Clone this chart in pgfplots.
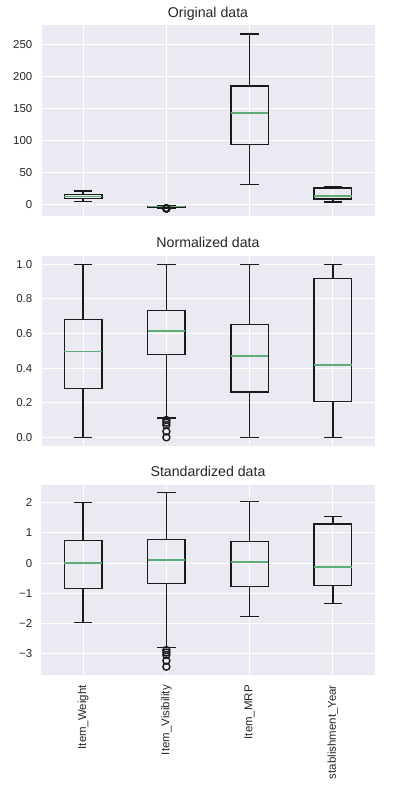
\documentclass[border=0pt]{standalone}
\usepackage{fontspec}
\setmainfont{Liberation Sans}
\usepackage{pgfplots}
\pgfplotsset{compat=1.18}
\usepgfplotslibrary{statistics}
\definecolor{bgc}{HTML}{EAEAF2}
\definecolor{medc}{HTML}{5DAE74}
\definecolor{txt}{HTML}{262626}
\definecolor{boxc}{HTML}{1A1A1A}
\pgfplotsset{
 sbstyle/.style={
  scale only axis, width=333bp, height=190.5bp,
  xmin=0.5, xmax=4.5,
  boxplot/draw direction=y,
  axis background/.style={fill=bgc},
  axis line style={draw=none},
  major tick length=0pt,
  grid=major,
  major grid style={white, line width=1bp},
  xtick={1,2,3,4},
  xticklabels={},
  tick label style={font=\fontsize{11.5}{13}\selectfont, text=txt},
  yticklabel style={anchor=east, inner sep=0pt, xshift=-9bp},
  title style={font=\fontsize{14.2}{16}\selectfont, text=txt, anchor=base, yshift=1.7bp, inner sep=0pt},
  boxplot/box extend=0.45,
  boxplot/whisker extend=0.225,
  boxplot/every median/.style={draw=medc, line width=1.7bp},
 },
 sbbox/.style={boxc, solid, line width=1.3bp, mark=o, mark size=3.5bp, mark options={boxc, solid, line width=1.4bp, fill=none}},
}
\begin{document}
\begin{tikzpicture}
\path[use as bounding box] (0,0) rectangle (394bp,-793bp);
% ---------------- Original
\begin{axis}[sbstyle, at={(41.5bp,-216bp)}, anchor=south west,
  title={Original data},
  ymin=-17.7, ymax=280.3,
  ytick={0,50,100,150,200,250},
  yticklabels={0,50,100,150,200,250}]
\addplot[sbbox, boxplot prepared={draw position=1, lower whisker=4.555, lower quartile=9.31, median=12.88, upper quartile=16.0, upper whisker=21.35}] coordinates {};
\addplot[sbbox, boxplot prepared={draw position=2, lower whisker=-5.51, lower quartile=-3.59, median=-2.92, upper quartile=-2.34, upper whisker=-1.11}] table[row sep=\\, y index=0] {data\\ -5.58\\ -5.65\\ -5.72\\ -5.9\\ -6.07\\};
\addplot[sbbox, boxplot prepared={draw position=3, lower whisker=31.29, lower quartile=93.8, median=143.0, upper quartile=185.6, upper whisker=266.9}] coordinates {};
\addplot[sbbox, boxplot prepared={draw position=4, lower whisker=4, lower quartile=9, median=14, upper quartile=26, upper whisker=28}] coordinates {};
\end{axis}
% ---------------- Normalized
\begin{axis}[sbstyle, at={(41.5bp,-446bp)}, anchor=south west,
  title={Normalized data},
  ymin=-0.05, ymax=1.05,
  ytick={0,0.2,0.4,0.6,0.8,1.0},
  yticklabels={0.0,0.2,0.4,0.6,0.8,1.0}]
\addplot[sbbox, boxplot prepared={draw position=1, lower whisker=0, lower quartile=0.283, median=0.496, upper quartile=0.681, upper whisker=1}] coordinates {};
\addplot[sbbox, boxplot prepared={draw position=2, lower whisker=0.112, lower quartile=0.479, median=0.615, upper quartile=0.731, upper whisker=1}] table[row sep=\\, y index=0] {data\\ 0.100\\ 0.085\\ 0.071\\ 0.034\\ 0.0\\};
\addplot[sbbox, boxplot prepared={draw position=3, lower whisker=0, lower quartile=0.2615, median=0.471, upper quartile=0.65, upper whisker=1}] coordinates {};
\addplot[sbbox, boxplot prepared={draw position=4, lower whisker=0, lower quartile=0.208, median=0.417, upper quartile=0.917, upper whisker=1}] coordinates {};
\end{axis}
% ---------------- Standardized
\begin{axis}[sbstyle, at={(41.5bp,-675bp)}, anchor=south west,
  title={Standardized data},
  ymin=-3.694, ymax=2.595,
  ytick={-3,-2,-1,0,1,2},
  yticklabels={−3,−2,−1,0,1,2},
  xticklabels={Item\_Weight,Item\_Visibility,Item\_MRP,stablishment\_Year},
  xticklabel style={yshift=-10bp, rotate=90, anchor=east, inner sep=0pt}]
\addplot[sbbox, boxplot prepared={draw position=1, lower whisker=-1.965, lower quartile=-0.83, median=0.007, upper quartile=0.744, upper whisker=2.01}] coordinates {};
\addplot[sbbox, boxplot prepared={draw position=2, lower whisker=-2.78, lower quartile=-0.676, median=0.105, upper quartile=0.775, upper whisker=2.32}] table[row sep=\\, y index=0] {data\\ -2.87\\ -2.95\\ -3.03\\ -3.22\\ -3.42\\};
\addplot[sbbox, boxplot prepared={draw position=3, lower whisker=-1.757, lower quartile=-0.764, median=0.029, upper quartile=0.71, upper whisker=2.03}] coordinates {};
\addplot[sbbox, boxplot prepared={draw position=4, lower whisker=-1.338, lower quartile=-0.743, median=-0.136, upper quartile=1.295, upper whisker=1.537}] coordinates {};
\end{axis}
\end{tikzpicture}
\end{document}
